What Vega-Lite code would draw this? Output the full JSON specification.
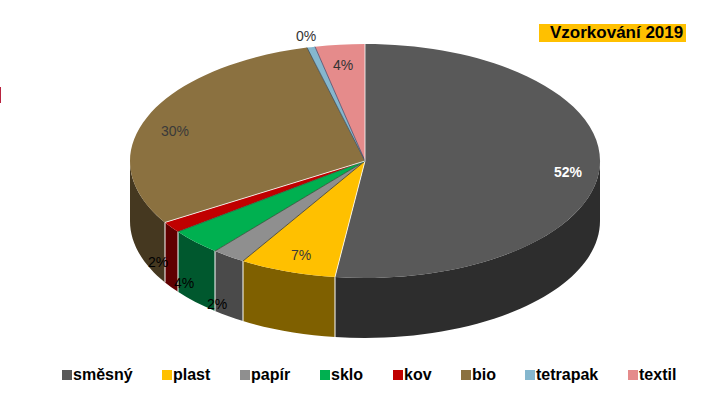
{"$schema":"https://vega.github.io/schema/vega-lite/v6.json","width":710,"height":322,"padding":{"left":10,"right":0,"top":0,"bottom":83},"autosize":"none","background":"white","config":{"view":{"stroke":null}},"datasets":{"slices":[{"k":"směsný","pct":0.52},{"k":"plast","pct":0.07},{"k":"papír","pct":0.02},{"k":"sklo","pct":0.04},{"k":"kov","pct":0.02},{"k":"bio","pct":0.30},{"k":"tetrapak","pct":0.00},{"k":"textil","pct":0.04}]},"data":{"name":"slices"},"resolve":{"scale":{"color":"independent","shape":"independent"}},"layer":[{"mark":{"type":"point","filled":true,"size":0,"shape":"square","opacity":1},"encoding":{"color":{"field":"k","type":"nominal","scale":{"domain":["směsný","plast","papír","sklo","kov","bio","tetrapak","textil"],"range":["#595959","#ffc000","#8f8f8f","#00b050","#c00000","#8b7140","#85b7ce","#e58b8b"]},"legend":{"orient":"none","legendX":49,"legendY":367,"direction":"horizontal","columns":8,"columnPadding":26,"title":null,"symbolType":"square","symbolSize":100,"symbolStrokeWidth":0,"labelFont":"Liberation Sans","labelFontSize":16,"labelFontWeight":"bold","labelColor":"#000000","labelOffset":-2,"padding":0}}}},{"transform":[{"filter":"datum.k!='tetrapak'&&datum.k!='textil'"}],"mark":{"type":"point","filled":true,"size":4,"opacity":1},"encoding":{"color":{"field":"k","type":"nominal","legend":null,"scale":{"domain":["směsný","plast","papír","sklo","kov","bio"],"range":["#2d2d2d","#7f6000","#4a4a4a","#00582e","#600000","#453820"]}},"shape":{"field":"k","type":"nominal","legend":null,"scale":{"domain":["směsný","plast","papír","sklo","kov","bio"],"range":["M235,0A235,117 0 0 1 -30,116.04L-30,176.04A235,117 0 0 0 235,60Z","M-30,116.04A235,117 0 0 1 -122,100L-122,160A235,117 0 0 0 -30,176.04Z","M-122,100A235,117 0 0 1 -150,90.07L-150,150.07A235,117 0 0 0 -122,160Z","M-150,90.07A235,117 0 0 1 -187,70.86L-187,130.86A235,117 0 0 0 -150,150.07Z","M-187,70.86A235,117 0 0 1 -200,61.43L-200,121.43A235,117 0 0 0 -187,130.86Z","M-200,61.43A235,117 0 0 1 -235,0L-235,60A235,117 0 0 0 -200,121.43Z"]}}}},{"transform":[{"filter":"datum.k!='tetrapak'&&datum.k!='textil'&&datum.k!='bio'"}],"mark":{"type":"point","filled":false,"size":4,"opacity":1,"strokeWidth":1,"color":"#ffffff"},"encoding":{"shape":{"field":"k","type":"nominal","legend":null,"scale":{"domain":["směsný","plast","papír","sklo","kov"],"range":["M-30,116.04L-30,176.04","M-122,100L-122,160","M-150,90.07L-150,150.07","M-187,70.86L-187,130.86","M-200,61.43L-200,121.43"]}}}},{"mark":{"type":"point","filled":true,"size":4,"opacity":1},"encoding":{"color":{"field":"k","type":"nominal","legend":null,"scale":{"domain":["směsný","plast","papír","sklo","kov","bio","tetrapak","textil"],"range":["#595959","#ffc000","#8f8f8f","#00b050","#c00000","#8b7140","#85b7ce","#e58b8b"]}},"shape":{"field":"k","type":"nominal","legend":null,"scale":{"domain":["směsný","plast","papír","sklo","kov","bio","tetrapak","textil"],"range":["M0,0L0,-117A235,117 0 1 1 -30,116.04Z","M0,0L-30,116.04A235,117 0 0 1 -122,100Z","M0,0L-122,100A235,117 0 0 1 -150,90.07Z","M0,0L-150,90.07A235,117 0 0 1 -187,70.86Z","M0,0L-187,70.86A235,117 0 0 1 -200,61.43Z","M0,0L-200,61.43A235,117 0 0 1 -58,-113.38Z","M0,0L-58,-113.38A235,117 0 0 1 -50,-114.32Z","M0,0L-50,-114.32A235,117 0 0 1 0,-117Z"]}}}},{"mark":{"type":"point","filled":false,"size":4,"opacity":1,"strokeWidth":0.8},"encoding":{"color":{"field":"k","type":"nominal","legend":null,"scale":{"domain":["směsný","plast","papír","sklo","kov","bio","tetrapak","textil"],"range":["#ffffff","#3f3a20","#3a4a3a","#1d6b3f","#ffffff","#3c4a55","#4a4a6a","#ffffff"]}},"shape":{"field":"k","type":"nominal","legend":null,"scale":{"domain":["směsný","plast","papír","sklo","kov","bio","tetrapak","textil"],"range":["M0,0L-30,116.04","M0,0L-122,100","M0,0L-150,90.07","M0,0L-187,70.86","M0,0L-200,61.43","M0,0L-58,-113.38","M0,0L-50,-114.32","M0,0L0,-117"]}}}},{"transform":[{"filter":"datum.k=='směsný'"}],"mark":{"type":"text","dx":203,"dy":12,"font":"Liberation Sans","fontSize":14,"fontWeight":"bold","color":"#ffffff"},"encoding":{"text":{"field":"pct","type":"quantitative","format":".0%"}}},{"transform":[{"filter":"datum.k=='plast'"}],"mark":{"type":"text","dx":-64,"dy":95,"font":"Liberation Sans","fontSize":14,"color":"#3a3a3a"},"encoding":{"text":{"field":"pct","type":"quantitative","format":".0%"}}},{"transform":[{"filter":"datum.k=='papír'"}],"mark":{"type":"text","dx":-148,"dy":144,"font":"Liberation Sans","fontSize":14,"color":"#000000"},"encoding":{"text":{"field":"pct","type":"quantitative","format":".0%"}}},{"transform":[{"filter":"datum.k=='sklo'"}],"mark":{"type":"text","dx":-181,"dy":123,"font":"Liberation Sans","fontSize":14,"color":"#000000"},"encoding":{"text":{"field":"pct","type":"quantitative","format":".0%"}}},{"transform":[{"filter":"datum.k=='kov'"}],"mark":{"type":"text","dx":-207,"dy":102,"font":"Liberation Sans","fontSize":14,"color":"#000000"},"encoding":{"text":{"field":"pct","type":"quantitative","format":".0%"}}},{"transform":[{"filter":"datum.k=='bio'"}],"mark":{"type":"text","dx":-190,"dy":-29,"font":"Liberation Sans","fontSize":14,"color":"#3a3a3a"},"encoding":{"text":{"field":"pct","type":"quantitative","format":".0%"}}},{"transform":[{"filter":"datum.k=='tetrapak'"}],"mark":{"type":"text","dx":-59,"dy":-124,"font":"Liberation Sans","fontSize":14,"color":"#333333"},"encoding":{"text":{"field":"pct","type":"quantitative","format":".0%"}}},{"transform":[{"filter":"datum.k=='textil'"}],"mark":{"type":"text","dx":-22,"dy":-95,"font":"Liberation Sans","fontSize":14,"color":"#333333"},"encoding":{"text":{"field":"pct","type":"quantitative","format":".0%"}}},{"data":{"values":[{"t":"Vzorkování 2019"}]},"layer":[{"mark":{"type":"point","filled":true,"size":4,"opacity":1,"color":"#ffc000","shape":"M174,-137L321,-137L321,-119L174,-119Z"}},{"mark":{"type":"text","align":"left","dx":185,"dy":-128,"font":"Liberation Sans","fontSize":17,"fontWeight":"bold","color":"#000000"},"encoding":{"text":{"field":"t","type":"nominal"}}},{"mark":{"type":"point","filled":true,"size":4,"opacity":1,"color":"#b8233f","shape":"M-365,-74L-364,-74L-364,-58L-365,-58Z"}}]}]}
